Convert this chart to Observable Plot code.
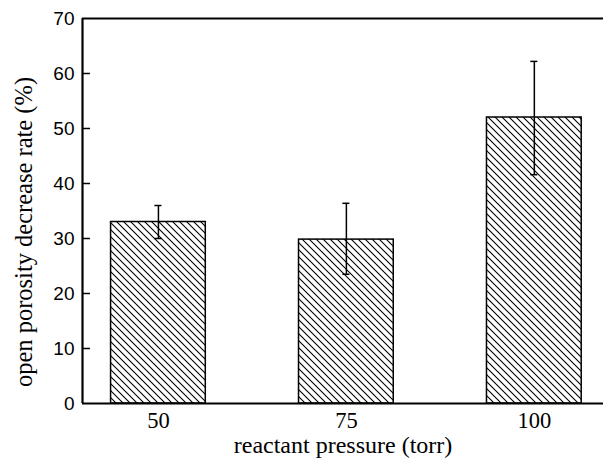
<!DOCTYPE html>
<html><head><meta charset="utf-8">
<script src="https://cdn.jsdelivr.net/npm/d3@7"></script>
<script src="https://cdn.jsdelivr.net/npm/@observablehq/plot@0.6"></script>
<style>
body{margin:0;overflow:hidden;background:#fff}
svg{display:block;background:#fff}
</style>
</head><body><div id="chart"></div>
<script>
const pressures = [50, 75, 100];
const pressureLabels = ["50", "75", "100"];
const rates = [33, 29.8, 52];
const errLow = [30, 23.5, 41.6];
const errHigh = [36, 36.4, 62.2];
const yTicks = [0, 10, 20, 30, 40, 50, 60, 70];
const innerTicks = [10, 20, 30, 40, 50, 60];
const xTitle = "reactant pressure (torr)";
const yTitle = "open porosity decrease rate (%)";

const data = pressures.map((p, i) => ({p, label: pressureLabels[i], rate: rates[i], lo: errLow[i], hi: errHigh[i]}));
const xDomain = [39.9, 109.2];
const halfBar = 6.3;
const capHalf = 0.47;
const serif = "'Liberation Serif', 'Times New Roman', serif";
const sans = "'Liberation Sans', Arial, sans-serif";

const svg = Plot.plot({
  width: 603,
  height: 463,
  marginLeft: 82,
  marginRight: 0,
  marginTop: 18,
  marginBottom: 60,
  x: {domain: xDomain, axis: null},
  y: {domain: [0, 70], axis: null},
  marks: [
    Plot.rectY(data, {x1: d => d.p - halfBar, x2: d => d.p + halfBar, y1: 0, y2: "rate", fill: "url(#hatch)", stroke: "black", strokeWidth: 1.5}),
    Plot.ruleX(data, {x: "p", y1: "lo", y2: "hi", stroke: "black", strokeWidth: 1.5}),
    Plot.ruleY(data, {y: "hi", x1: d => d.p - capHalf, x2: d => d.p + capHalf, stroke: "black", strokeWidth: 1.5}),
    Plot.ruleY(data, {y: "lo", x1: d => d.p - capHalf, x2: d => d.p + capHalf, stroke: "black", strokeWidth: 1.5}),
    Plot.tickY(innerTicks, {y: d => d, insetRight: 521 - 8, stroke: "black", strokeWidth: 1.5}),
    Plot.ruleY([0, 70], {stroke: "black", strokeWidth: 2.2}),
    Plot.ruleX([xDomain[0]], {stroke: "black", strokeWidth: 2.2}),
    Plot.text(yTicks, {y: d => d, text: d => String(d), frameAnchor: "left", dx: -8, textAnchor: "end", fontFamily: sans, fontSize: 19, fill: "black"}),
    Plot.text(data, {x: "p", text: "label", frameAnchor: "bottom", dy: 9, lineAnchor: "top", textAnchor: "middle", fontFamily: serif, fontSize: 22.5, fill: "black"}),
    Plot.text([xTitle], {frameAnchor: "bottom", text: d => d, dy: 49, lineAnchor: "bottom", textAnchor: "middle", fontFamily: serif, fontSize: 24, fill: "black"}),
    Plot.text([yTitle], {frameAnchor: "left", text: d => d, rotate: -90, dx: -51, dy: 21, lineAnchor: "bottom", textAnchor: "middle", fontFamily: serif, fontSize: 24.5, fill: "black"})
  ]
});

const root = d3.select(svg);
const defs = root.insert("defs", ":first-child");
const pat = defs.append("pattern")
  .attr("id", "hatch")
  .attr("patternUnits", "userSpaceOnUse")
  .attr("width", 7)
  .attr("height", 7);
pat.append("path")
  .attr("d", "M0,0L7,7M-1,6L1,8M6,-1L8,1")
  .attr("stroke", "black")
  .attr("stroke-width", 1.1)
  .attr("fill", "none");

document.getElementById("chart").appendChild(svg);
</script>
</body></html>
